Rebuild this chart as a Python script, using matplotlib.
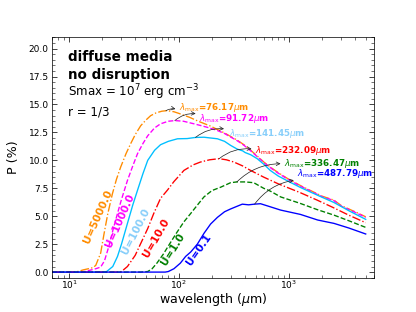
import matplotlib
matplotlib.use("Agg")
import matplotlib.pyplot as plt
import numpy as np
from matplotlib.ticker import AutoMinorLocator

# ---- data ----
wl_5000 = [7, 10, 12, 13.5, 15, 16.5, 17.5, 19.4, 20.8, 22.5, 24.8, 27, 29.5, 33, 36.4, 40, 44.9, 50, 55.3, 62, 70, 78,
           90, 100, 125, 150, 190, 220, 260, 300, 340, 390, 450, 520, 600, 700, 800, 1000, 1300, 2000, 2570, 3000, 4000, 5000]
P_5000 = [0.0, 0.0, 0.05, 0.2, 0.3, 0.4, 0.6, 1.7, 3.4, 5.2, 7.0, 8.3, 9.4, 10.6, 11.5, 12.3, 13.1, 13.6, 14.0, 14.25, 14.4, 14.45,
          14.35, 14.2, 13.85, 13.5, 13.1, 12.8, 12.45, 12.1, 11.8, 11.4, 10.9, 10.35, 9.8, 9.3, 8.9, 8.3, 7.7, 6.8, 6.44, 5.95, 5.4, 4.95]

wl_1000 = [7, 12, 14, 16, 17.5, 19.4, 21, 23, 25, 27.6, 30, 34, 38, 42, 47, 52, 60, 68, 80, 92, 110, 137, 160, 190, 220,
           260, 300, 340, 390, 450, 520, 600, 700, 800, 1000, 1300, 2000, 2570, 3000, 4000, 5000]
P_1000 = [0.0, 0.0, 0.05, 0.2, 0.3, 0.45, 1.0, 2.28, 3.7, 5.25, 6.5, 8.2, 9.5, 10.6, 11.5, 12.2, 12.9, 13.27, 13.5, 13.56, 13.5, 13.27, 13.1, 12.9, 12.7,
          12.4, 12.05, 11.75, 11.35, 10.85, 10.3, 9.75, 9.25, 8.85, 8.25, 7.65, 6.75, 6.4, 5.9, 5.35, 4.9]

wl_100 = [7, 20, 22, 25, 27.6, 30, 34, 38, 42, 47, 52, 60, 68, 80, 97, 119, 141, 169, 224, 260, 295, 340, 380, 400,
          450, 515, 600, 677, 800, 1000, 1276, 2000, 2570, 3500, 5000]
P_100 = [0.0, 0.0, 0.05, 0.5, 1.4, 2.5, 4.36, 6.0, 7.33, 8.8, 10.0, 10.9, 11.4, 11.7, 11.93, 11.95, 12.05, 12.07, 11.93, 11.7, 11.34, 11.0, 10.85, 10.7,
         10.5, 10.15, 9.6, 9.1, 8.6, 8.1, 7.57, 6.7, 6.23, 5.5, 4.72]

wl_10 = [7, 28, 30, 34, 40, 45, 52, 59, 68, 78.5, 90, 111, 135, 157, 190, 232, 270, 316, 380, 448, 590, 800,
         1276, 1800, 2500, 3500, 5000]
P_10 = [0.0, 0.0, 0.05, 0.5, 1.5, 2.58, 3.9, 5.25, 6.6, 7.33, 8.1, 9.1, 9.6, 9.85, 10.05, 10.15, 10.05, 9.85, 9.5, 9.1, 8.5, 7.9,
        7.1, 6.45, 5.8, 5.1, 4.42]

wl_1 = [7, 45, 52, 57, 63, 72, 83, 95, 111, 128, 150, 169, 200, 240, 295, 336, 400, 479, 590, 677, 841, 1276,
        1800, 2570, 3500, 5000]
P_1 = [0.0, 0.0, 0.05, 0.3, 0.8, 1.6, 2.58, 3.5, 4.5, 5.25, 6.1, 6.73, 7.3, 7.6, 8.0, 8.07, 8.07, 8.0, 7.5, 7.25, 6.73, 6.14,
       5.6, 5.1, 4.6, 4.0]

wl_01 = [7, 75, 80, 90, 103, 115, 128, 147, 169, 194, 224, 260, 295, 340, 377, 430, 487, 552, 650, 841, 1276,
         1830, 2570, 3500, 5000]
P_01 = [0.0, 0.0, 0.05, 0.3, 0.8, 1.4, 1.8, 2.5, 3.47, 4.3, 4.9, 5.4, 5.65, 5.9, 6.08, 6.02, 6.08, 6.12, 5.9, 5.55, 5.16,
        4.66, 4.36, 3.95, 3.41]

labels_U = ["U=5000.0", "U=1000.0", "U=100.0", "U=10.0", "U=1.0", "U=0.1"]
lam_max = [76.17, 91.72, 141.45, 232.09, 336.47, 487.79]

line_colors = ["darkorange", "magenta", "deepskyblue", "red", "green", "blue"]
text_colors = ["darkorange", "magenta", "lightskyblue", "red", "green", "blue"]
line_styles = ["-.", "--", "-", "-.", "--", "-"]

wls = [wl_5000, wl_1000, wl_100, wl_10, wl_1, wl_01]
Ps = [P_5000, P_1000, P_100, P_10, P_1, P_01]

# label placement (data coords)
U_label_pos = [(18.4, 5.0), (29.0, 4.66), (40.5, 3.68), (61.4, 3.1), (88.5, 2.0), (151, 1.99)]
U_label_rot = [66, 66, 63, 60, 58, 55]
lam_text_pos = [(101, 14.75), (152, 13.78), (285, 12.36), (495, 10.89), (895, 9.7), (1185, 8.81)]
lam_head_pos = [(93, 14.6), (142, 14.18), (257, 12.82), (458, 11.02), (841, 9.7), (1109, 8.22)]

fig = plt.figure(figsize=(6.4, 4.8), dpi=65)
ax = fig.add_subplot(111)

for wl, P, c, ls in zip(wls, Ps, line_colors, line_styles):
    ax.plot(wl, P, color=c, ls=ls, lw=1.5)

for (x, y), rot, lab, c in zip(U_label_pos, U_label_rot, labels_U, text_colors):
    ax.text(x, y, lab, color=c, rotation=rot, fontsize=11.5, fontweight="bold",
            ha="center", va="center", rotation_mode="anchor")

for lm, wl, P, tpos, hpos, c in zip(lam_max, wls, Ps, lam_text_pos, lam_head_pos, text_colors):
    pk = np.interp(np.log10(lm), np.log10(wl), P)
    ax.annotate("", xy=hpos, xytext=(lm, pk),
                arrowprops=dict(arrowstyle="->", color="#222222", lw=0.8,
                                connectionstyle="arc3,rad=-0.2", shrinkA=0, shrinkB=0))
    ax.text(tpos[0], tpos[1], r"$\lambda_{\rm max}$" + "=%.2f" % lm + r"$\mu$m",
            color=c, fontsize=9.7, fontweight="bold", ha="left", va="center")

ax.text(0.05, 0.92, "diffuse media", transform=ax.transAxes, fontsize=15, fontweight="bold", va="center")
ax.text(0.05, 0.843, "no disruption", transform=ax.transAxes, fontsize=15, fontweight="bold", va="center")
ax.text(0.05, 0.772, r"Smax = 10$^{7}$ erg cm$^{-3}$", transform=ax.transAxes, fontsize=13.2, va="center")
ax.text(0.05, 0.69, "r = 1/3", transform=ax.transAxes, fontsize=13.2, va="center")

ax.set_xscale("log")
ax.set_xlim(7, 6000)
ax.set_ylim(-0.5, 21)
ax.yaxis.set_minor_locator(AutoMinorLocator())
ax.tick_params(which="both", direction="in", top=True, right=True)
ax.tick_params(which="major", length=6)
ax.tick_params(which="minor", length=3)
ax.tick_params(axis="x", which="both", pad=0.5)
ax.set_xlabel(r"wavelength ($\mu$m)", fontsize=14, labelpad=1)
ax.set_ylabel("P (%)", fontsize=14, labelpad=10)

fig.savefig("out.png", dpi=65)
